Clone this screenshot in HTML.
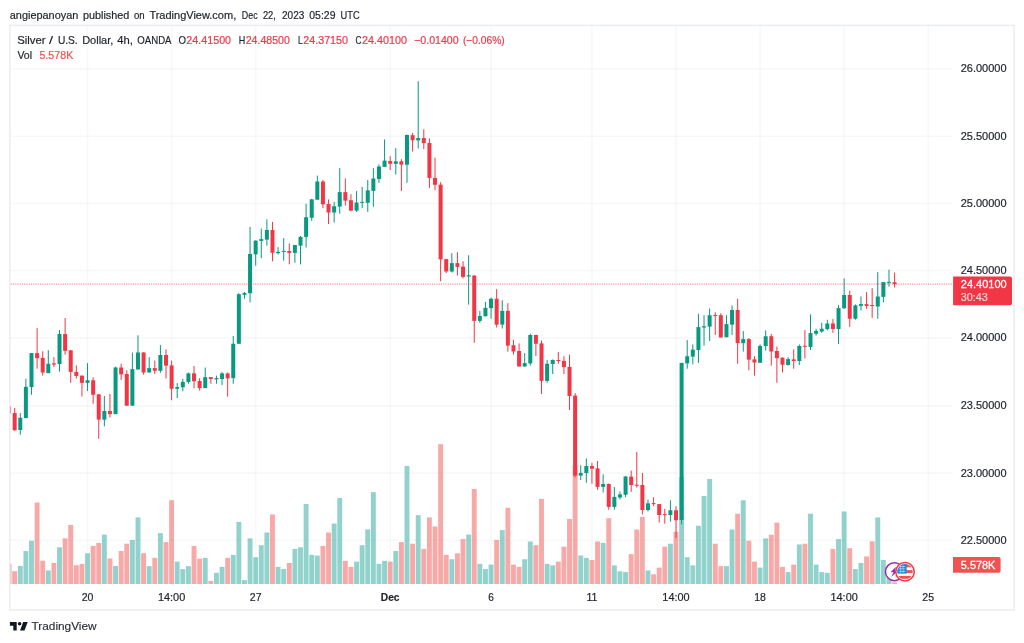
<!DOCTYPE html>
<html><head><meta charset="utf-8"><title>XAGUSD chart</title><style>html,body{margin:0;padding:0;background:#fff}svg{display:block;will-change:transform}text{font-family:"Liberation Sans",sans-serif}</style></head>
<body>
<svg width="1024" height="643" viewBox="0 0 1024 643">
<rect x="0" y="0" width="1024" height="643" fill="#ffffff"/>
<text x="9.8" y="18.6" font-size="11.2" fill="#1e222d" stroke="#1e222d" stroke-width="0.2" textLength="68.5" lengthAdjust="spacingAndGlyphs">angiepanoyan</text>
<text x="82.9" y="18.6" font-size="11.2" fill="#1e222d" stroke="#1e222d" stroke-width="0.2" textLength="46.4" lengthAdjust="spacingAndGlyphs">published</text>
<text x="134" y="18.6" font-size="11.2" fill="#1e222d" stroke="#1e222d" stroke-width="0.2" textLength="10.7" lengthAdjust="spacingAndGlyphs">on</text>
<text x="149.4" y="18.6" font-size="11.2" fill="#1e222d" stroke="#1e222d" stroke-width="0.2" textLength="86.8" lengthAdjust="spacingAndGlyphs">TradingView.com,</text>
<text x="241.8" y="18.6" font-size="11.2" fill="#1e222d" stroke="#1e222d" stroke-width="0.2" textLength="15.8" lengthAdjust="spacingAndGlyphs">Dec</text>
<text x="262.9" y="18.6" font-size="11.2" fill="#1e222d" stroke="#1e222d" stroke-width="0.2" textLength="13" lengthAdjust="spacingAndGlyphs">22,</text>
<text x="282" y="18.6" font-size="11.2" fill="#1e222d" stroke="#1e222d" stroke-width="0.2" textLength="22.3" lengthAdjust="spacingAndGlyphs">2023</text>
<text x="309.3" y="18.6" font-size="11.2" fill="#1e222d" stroke="#1e222d" stroke-width="0.2" textLength="26.2" lengthAdjust="spacingAndGlyphs">05:29</text>
<text x="340.5" y="18.6" font-size="11.2" fill="#1e222d" stroke="#1e222d" stroke-width="0.2" textLength="19.1" lengthAdjust="spacingAndGlyphs">UTC</text>
<g stroke="rgba(42,46,57,0.036)" stroke-width="1.6">
<line x1="87.53" y1="25.4" x2="87.53" y2="584"/>
<line x1="171.6" y1="25.4" x2="171.6" y2="584"/>
<line x1="255.67" y1="25.4" x2="255.67" y2="584"/>
<line x1="390.18" y1="25.4" x2="390.18" y2="584"/>
<line x1="491.06" y1="25.4" x2="491.06" y2="584"/>
<line x1="591.94" y1="25.4" x2="591.94" y2="584"/>
<line x1="676.01" y1="25.4" x2="676.01" y2="584"/>
<line x1="760.07" y1="25.4" x2="760.07" y2="584"/>
<line x1="844.14" y1="25.4" x2="844.14" y2="584"/>
<line x1="928.21" y1="25.4" x2="928.21" y2="584"/>
<line x1="10.3" y1="69" x2="953" y2="69"/>
<line x1="10.3" y1="136.3" x2="953" y2="136.3"/>
<line x1="10.3" y1="203.5" x2="953" y2="203.5"/>
<line x1="10.3" y1="270.5" x2="953" y2="270.5"/>
<line x1="10.3" y1="337.9" x2="953" y2="337.9"/>
<line x1="10.3" y1="405.9" x2="953" y2="405.9"/>
<line x1="10.3" y1="473.1" x2="953" y2="473.1"/>
<line x1="10.3" y1="540.3" x2="953" y2="540.3"/>
</g>
<clipPath id="cp"><rect x="10.3" y="25.4" width="942.7" height="558.6"/></clipPath>
<g clip-path="url(#cp)">
<rect x="6.62" y="563.72" width="4.9" height="20.28" fill="rgba(239,83,80,0.5)"/>
<rect x="12.22" y="571.19" width="4.9" height="12.81" fill="rgba(239,83,80,0.5)"/>
<rect x="17.83" y="565.96" width="4.9" height="18.04" fill="rgba(38,166,154,0.5)"/>
<rect x="23.43" y="551.03" width="4.9" height="32.97" fill="rgba(38,166,154,0.5)"/>
<rect x="29.04" y="540.73" width="4.9" height="43.27" fill="rgba(38,166,154,0.5)"/>
<rect x="34.64" y="502.51" width="4.9" height="81.49" fill="rgba(239,83,80,0.5)"/>
<rect x="40.25" y="560.74" width="4.9" height="23.26" fill="rgba(239,83,80,0.5)"/>
<rect x="45.85" y="570.44" width="4.9" height="13.56" fill="rgba(38,166,154,0.5)"/>
<rect x="51.46" y="562.98" width="4.9" height="21.02" fill="rgba(239,83,80,0.5)"/>
<rect x="57.06" y="547.3" width="4.9" height="36.7" fill="rgba(38,166,154,0.5)"/>
<rect x="62.67" y="538.34" width="4.9" height="45.66" fill="rgba(239,83,80,0.5)"/>
<rect x="68.27" y="524.9" width="4.9" height="59.1" fill="rgba(239,83,80,0.5)"/>
<rect x="73.87" y="565.22" width="4.9" height="18.78" fill="rgba(239,83,80,0.5)"/>
<rect x="79.48" y="563.87" width="4.9" height="20.13" fill="rgba(239,83,80,0.5)"/>
<rect x="85.08" y="553.27" width="4.9" height="30.73" fill="rgba(38,166,154,0.5)"/>
<rect x="90.69" y="545.96" width="4.9" height="38.04" fill="rgba(239,83,80,0.5)"/>
<rect x="96.29" y="542.97" width="4.9" height="41.03" fill="rgba(239,83,80,0.5)"/>
<rect x="101.9" y="534.61" width="4.9" height="49.39" fill="rgba(38,166,154,0.5)"/>
<rect x="107.5" y="558.5" width="4.9" height="25.5" fill="rgba(239,83,80,0.5)"/>
<rect x="113.11" y="565.96" width="4.9" height="18.04" fill="rgba(38,166,154,0.5)"/>
<rect x="118.71" y="551.03" width="4.9" height="32.97" fill="rgba(239,83,80,0.5)"/>
<rect x="124.31" y="543.72" width="4.9" height="40.28" fill="rgba(239,83,80,0.5)"/>
<rect x="129.92" y="539.98" width="4.9" height="44.02" fill="rgba(38,166,154,0.5)"/>
<rect x="135.52" y="517.44" width="4.9" height="66.56" fill="rgba(38,166,154,0.5)"/>
<rect x="141.13" y="553.27" width="4.9" height="30.73" fill="rgba(239,83,80,0.5)"/>
<rect x="146.73" y="566.11" width="4.9" height="17.89" fill="rgba(38,166,154,0.5)"/>
<rect x="152.34" y="557.9" width="4.9" height="26.1" fill="rgba(239,83,80,0.5)"/>
<rect x="157.94" y="533.12" width="4.9" height="50.88" fill="rgba(38,166,154,0.5)"/>
<rect x="163.55" y="542.07" width="4.9" height="41.93" fill="rgba(239,83,80,0.5)"/>
<rect x="169.15" y="500.27" width="4.9" height="83.73" fill="rgba(239,83,80,0.5)"/>
<rect x="174.75" y="561.63" width="4.9" height="22.37" fill="rgba(38,166,154,0.5)"/>
<rect x="180.36" y="569.1" width="4.9" height="14.9" fill="rgba(38,166,154,0.5)"/>
<rect x="185.96" y="566.11" width="4.9" height="17.89" fill="rgba(38,166,154,0.5)"/>
<rect x="191.57" y="545.96" width="4.9" height="38.04" fill="rgba(239,83,80,0.5)"/>
<rect x="197.17" y="558.65" width="4.9" height="25.35" fill="rgba(239,83,80,0.5)"/>
<rect x="202.78" y="557.9" width="4.9" height="26.1" fill="rgba(38,166,154,0.5)"/>
<rect x="208.38" y="580.89" width="4.9" height="3.11" fill="rgba(239,83,80,0.5)"/>
<rect x="213.99" y="572.83" width="4.9" height="11.17" fill="rgba(38,166,154,0.5)"/>
<rect x="219.59" y="566.86" width="4.9" height="17.14" fill="rgba(38,166,154,0.5)"/>
<rect x="225.2" y="557.9" width="4.9" height="26.1" fill="rgba(239,83,80,0.5)"/>
<rect x="230.8" y="554.91" width="4.9" height="29.09" fill="rgba(38,166,154,0.5)"/>
<rect x="236.4" y="521.92" width="4.9" height="62.08" fill="rgba(38,166,154,0.5)"/>
<rect x="242.01" y="580.15" width="4.9" height="3.85" fill="rgba(38,166,154,0.5)"/>
<rect x="247.61" y="538.34" width="4.9" height="45.66" fill="rgba(38,166,154,0.5)"/>
<rect x="253.22" y="557.15" width="4.9" height="26.85" fill="rgba(38,166,154,0.5)"/>
<rect x="258.82" y="545.21" width="4.9" height="38.79" fill="rgba(38,166,154,0.5)"/>
<rect x="264.43" y="532.52" width="4.9" height="51.48" fill="rgba(38,166,154,0.5)"/>
<rect x="270.03" y="514.45" width="4.9" height="69.55" fill="rgba(239,83,80,0.5)"/>
<rect x="275.64" y="566.86" width="4.9" height="17.14" fill="rgba(38,166,154,0.5)"/>
<rect x="281.24" y="569.1" width="4.9" height="14.9" fill="rgba(38,166,154,0.5)"/>
<rect x="286.84" y="562.98" width="4.9" height="21.02" fill="rgba(239,83,80,0.5)"/>
<rect x="292.45" y="548.94" width="4.9" height="35.06" fill="rgba(38,166,154,0.5)"/>
<rect x="298.05" y="547.3" width="4.9" height="36.7" fill="rgba(38,166,154,0.5)"/>
<rect x="303.66" y="504" width="4.9" height="80" fill="rgba(38,166,154,0.5)"/>
<rect x="309.26" y="554.91" width="4.9" height="29.09" fill="rgba(38,166,154,0.5)"/>
<rect x="314.87" y="555.66" width="4.9" height="28.34" fill="rgba(38,166,154,0.5)"/>
<rect x="320.47" y="545.96" width="4.9" height="38.04" fill="rgba(239,83,80,0.5)"/>
<rect x="326.08" y="532.52" width="4.9" height="51.48" fill="rgba(239,83,80,0.5)"/>
<rect x="331.68" y="523.56" width="4.9" height="60.44" fill="rgba(38,166,154,0.5)"/>
<rect x="337.29" y="498.03" width="4.9" height="85.97" fill="rgba(38,166,154,0.5)"/>
<rect x="342.89" y="560.89" width="4.9" height="23.11" fill="rgba(239,83,80,0.5)"/>
<rect x="348.49" y="566.86" width="4.9" height="17.14" fill="rgba(239,83,80,0.5)"/>
<rect x="354.1" y="561.63" width="4.9" height="22.37" fill="rgba(38,166,154,0.5)"/>
<rect x="359.7" y="545.21" width="4.9" height="38.79" fill="rgba(38,166,154,0.5)"/>
<rect x="365.31" y="529.38" width="4.9" height="54.62" fill="rgba(38,166,154,0.5)"/>
<rect x="370.91" y="492.1" width="4.9" height="91.9" fill="rgba(38,166,154,0.5)"/>
<rect x="376.52" y="563.87" width="4.9" height="20.13" fill="rgba(38,166,154,0.5)"/>
<rect x="382.12" y="560.89" width="4.9" height="23.11" fill="rgba(38,166,154,0.5)"/>
<rect x="387.73" y="561.63" width="4.9" height="22.37" fill="rgba(239,83,80,0.5)"/>
<rect x="393.33" y="551.03" width="4.9" height="32.97" fill="rgba(38,166,154,0.5)"/>
<rect x="398.94" y="542.07" width="4.9" height="41.93" fill="rgba(239,83,80,0.5)"/>
<rect x="404.54" y="466" width="4.9" height="118" fill="rgba(38,166,154,0.5)"/>
<rect x="410.14" y="543.72" width="4.9" height="40.28" fill="rgba(239,83,80,0.5)"/>
<rect x="415.75" y="515.2" width="4.9" height="68.8" fill="rgba(38,166,154,0.5)"/>
<rect x="421.35" y="548.94" width="4.9" height="35.06" fill="rgba(239,83,80,0.5)"/>
<rect x="426.96" y="517.44" width="4.9" height="66.56" fill="rgba(239,83,80,0.5)"/>
<rect x="432.56" y="526.4" width="4.9" height="57.6" fill="rgba(239,83,80,0.5)"/>
<rect x="438.17" y="444.2" width="4.9" height="139.8" fill="rgba(239,83,80,0.5)"/>
<rect x="443.77" y="554.91" width="4.9" height="29.09" fill="rgba(239,83,80,0.5)"/>
<rect x="449.38" y="559.24" width="4.9" height="24.76" fill="rgba(38,166,154,0.5)"/>
<rect x="454.98" y="553.27" width="4.9" height="30.73" fill="rgba(239,83,80,0.5)"/>
<rect x="460.58" y="539.09" width="4.9" height="44.91" fill="rgba(239,83,80,0.5)"/>
<rect x="466.19" y="534.61" width="4.9" height="49.39" fill="rgba(38,166,154,0.5)"/>
<rect x="471.79" y="489" width="4.9" height="95" fill="rgba(239,83,80,0.5)"/>
<rect x="477.4" y="563.87" width="4.9" height="20.13" fill="rgba(38,166,154,0.5)"/>
<rect x="483" y="569.1" width="4.9" height="14.9" fill="rgba(38,166,154,0.5)"/>
<rect x="488.61" y="564.62" width="4.9" height="19.38" fill="rgba(38,166,154,0.5)"/>
<rect x="494.21" y="539.98" width="4.9" height="44.02" fill="rgba(239,83,80,0.5)"/>
<rect x="499.82" y="530.13" width="4.9" height="53.87" fill="rgba(38,166,154,0.5)"/>
<rect x="505.42" y="507.74" width="4.9" height="76.26" fill="rgba(239,83,80,0.5)"/>
<rect x="511.03" y="564.62" width="4.9" height="19.38" fill="rgba(239,83,80,0.5)"/>
<rect x="516.63" y="566.86" width="4.9" height="17.14" fill="rgba(239,83,80,0.5)"/>
<rect x="522.23" y="559.24" width="4.9" height="24.76" fill="rgba(38,166,154,0.5)"/>
<rect x="527.84" y="541.48" width="4.9" height="42.52" fill="rgba(38,166,154,0.5)"/>
<rect x="533.44" y="545.21" width="4.9" height="38.79" fill="rgba(239,83,80,0.5)"/>
<rect x="539.05" y="498.93" width="4.9" height="85.07" fill="rgba(239,83,80,0.5)"/>
<rect x="544.65" y="563.87" width="4.9" height="20.13" fill="rgba(38,166,154,0.5)"/>
<rect x="550.26" y="565.36" width="4.9" height="18.64" fill="rgba(38,166,154,0.5)"/>
<rect x="555.86" y="561.63" width="4.9" height="22.37" fill="rgba(239,83,80,0.5)"/>
<rect x="561.47" y="546.7" width="4.9" height="37.3" fill="rgba(239,83,80,0.5)"/>
<rect x="567.07" y="518.93" width="4.9" height="65.07" fill="rgba(239,83,80,0.5)"/>
<rect x="572.67" y="465" width="4.9" height="119" fill="rgba(239,83,80,0.5)"/>
<rect x="578.28" y="555.51" width="4.9" height="28.49" fill="rgba(38,166,154,0.5)"/>
<rect x="583.88" y="557.9" width="4.9" height="26.1" fill="rgba(38,166,154,0.5)"/>
<rect x="589.49" y="559.99" width="4.9" height="24.01" fill="rgba(239,83,80,0.5)"/>
<rect x="595.09" y="541.48" width="4.9" height="42.52" fill="rgba(239,83,80,0.5)"/>
<rect x="600.7" y="542.97" width="4.9" height="41.03" fill="rgba(38,166,154,0.5)"/>
<rect x="606.3" y="518.19" width="4.9" height="65.81" fill="rgba(239,83,80,0.5)"/>
<rect x="611.91" y="565.36" width="4.9" height="18.64" fill="rgba(38,166,154,0.5)"/>
<rect x="617.51" y="571.34" width="4.9" height="12.66" fill="rgba(38,166,154,0.5)"/>
<rect x="623.12" y="572.08" width="4.9" height="11.92" fill="rgba(38,166,154,0.5)"/>
<rect x="628.72" y="554.17" width="4.9" height="29.83" fill="rgba(239,83,80,0.5)"/>
<rect x="634.32" y="529.53" width="4.9" height="54.47" fill="rgba(239,83,80,0.5)"/>
<rect x="639.93" y="516.84" width="4.9" height="67.16" fill="rgba(239,83,80,0.5)"/>
<rect x="645.53" y="570.44" width="4.9" height="13.56" fill="rgba(38,166,154,0.5)"/>
<rect x="651.14" y="574.32" width="4.9" height="9.68" fill="rgba(239,83,80,0.5)"/>
<rect x="656.74" y="567.6" width="4.9" height="16.4" fill="rgba(239,83,80,0.5)"/>
<rect x="662.35" y="546.7" width="4.9" height="37.3" fill="rgba(239,83,80,0.5)"/>
<rect x="667.95" y="543.72" width="4.9" height="40.28" fill="rgba(38,166,154,0.5)"/>
<rect x="673.56" y="531.77" width="4.9" height="52.23" fill="rgba(239,83,80,0.5)"/>
<rect x="679.16" y="477.1" width="4.9" height="106.9" fill="rgba(38,166,154,0.5)"/>
<rect x="684.76" y="557.15" width="4.9" height="26.85" fill="rgba(38,166,154,0.5)"/>
<rect x="690.37" y="565.36" width="4.9" height="18.64" fill="rgba(38,166,154,0.5)"/>
<rect x="695.97" y="525.8" width="4.9" height="58.2" fill="rgba(38,166,154,0.5)"/>
<rect x="701.58" y="495.94" width="4.9" height="88.06" fill="rgba(38,166,154,0.5)"/>
<rect x="707.18" y="478.95" width="4.9" height="105.05" fill="rgba(38,166,154,0.5)"/>
<rect x="712.79" y="543.72" width="4.9" height="40.28" fill="rgba(239,83,80,0.5)"/>
<rect x="718.39" y="566.11" width="4.9" height="17.89" fill="rgba(239,83,80,0.5)"/>
<rect x="724" y="566.11" width="4.9" height="17.89" fill="rgba(38,166,154,0.5)"/>
<rect x="729.6" y="529.53" width="4.9" height="54.47" fill="rgba(38,166,154,0.5)"/>
<rect x="735.2" y="513.71" width="4.9" height="70.29" fill="rgba(239,83,80,0.5)"/>
<rect x="740.81" y="500.27" width="4.9" height="83.73" fill="rgba(38,166,154,0.5)"/>
<rect x="746.41" y="540.73" width="4.9" height="43.27" fill="rgba(239,83,80,0.5)"/>
<rect x="752.02" y="561.63" width="4.9" height="22.37" fill="rgba(239,83,80,0.5)"/>
<rect x="757.62" y="567.6" width="4.9" height="16.4" fill="rgba(38,166,154,0.5)"/>
<rect x="763.23" y="538.34" width="4.9" height="45.66" fill="rgba(38,166,154,0.5)"/>
<rect x="768.83" y="534.76" width="4.9" height="49.24" fill="rgba(239,83,80,0.5)"/>
<rect x="774.44" y="522.67" width="4.9" height="61.33" fill="rgba(239,83,80,0.5)"/>
<rect x="780.04" y="566.86" width="4.9" height="17.14" fill="rgba(239,83,80,0.5)"/>
<rect x="785.65" y="572.08" width="4.9" height="11.92" fill="rgba(38,166,154,0.5)"/>
<rect x="791.25" y="564.62" width="4.9" height="19.38" fill="rgba(239,83,80,0.5)"/>
<rect x="796.85" y="544.46" width="4.9" height="39.54" fill="rgba(38,166,154,0.5)"/>
<rect x="802.46" y="543.72" width="4.9" height="40.28" fill="rgba(239,83,80,0.5)"/>
<rect x="808.06" y="513.71" width="4.9" height="70.29" fill="rgba(38,166,154,0.5)"/>
<rect x="813.67" y="564.62" width="4.9" height="19.38" fill="rgba(38,166,154,0.5)"/>
<rect x="819.27" y="572.08" width="4.9" height="11.92" fill="rgba(38,166,154,0.5)"/>
<rect x="824.88" y="572.83" width="4.9" height="11.17" fill="rgba(38,166,154,0.5)"/>
<rect x="830.48" y="548.94" width="4.9" height="35.06" fill="rgba(239,83,80,0.5)"/>
<rect x="836.09" y="539.09" width="4.9" height="44.91" fill="rgba(38,166,154,0.5)"/>
<rect x="841.69" y="511.47" width="4.9" height="72.53" fill="rgba(38,166,154,0.5)"/>
<rect x="847.29" y="548.2" width="4.9" height="35.8" fill="rgba(239,83,80,0.5)"/>
<rect x="852.9" y="569.1" width="4.9" height="14.9" fill="rgba(38,166,154,0.5)"/>
<rect x="858.5" y="562.98" width="4.9" height="21.02" fill="rgba(38,166,154,0.5)"/>
<rect x="864.11" y="556.41" width="4.9" height="27.59" fill="rgba(239,83,80,0.5)"/>
<rect x="869.71" y="541.33" width="4.9" height="42.67" fill="rgba(239,83,80,0.5)"/>
<rect x="875.32" y="517.44" width="4.9" height="66.56" fill="rgba(38,166,154,0.5)"/>
<rect x="880.92" y="559.99" width="4.9" height="24.01" fill="rgba(38,166,154,0.5)"/>
<rect x="886.53" y="574" width="4.9" height="10" fill="rgba(38,166,154,0.5)"/>
<rect x="892.13" y="582.3" width="4.9" height="1.7" fill="rgba(239,83,80,0.5)"/>
<rect x="8.57" y="406.25" width="1" height="7.25" fill="#f23645"/>
<rect x="7.07" y="406.25" width="4" height="7.25" fill="#f23645"/>
<rect x="14.17" y="407.88" width="1" height="23" fill="#f23645"/>
<rect x="12.67" y="413.12" width="4" height="17.12" fill="#f23645"/>
<rect x="19.78" y="413.12" width="1" height="21.62" fill="#089981"/>
<rect x="18.28" y="417.75" width="4" height="12.25" fill="#089981"/>
<rect x="25.38" y="378.75" width="1" height="39.38" fill="#089981"/>
<rect x="23.88" y="386.88" width="4" height="31.25" fill="#089981"/>
<rect x="30.99" y="353.12" width="1" height="41.62" fill="#089981"/>
<rect x="29.49" y="353.12" width="4" height="34" fill="#089981"/>
<rect x="36.59" y="328.12" width="1" height="40.62" fill="#f23645"/>
<rect x="35.09" y="353.12" width="4" height="5" fill="#f23645"/>
<rect x="42.2" y="351.25" width="1" height="24.38" fill="#f23645"/>
<rect x="40.7" y="357.88" width="4" height="14.62" fill="#f23645"/>
<rect x="47.8" y="350.25" width="1" height="22.88" fill="#089981"/>
<rect x="46.3" y="363.75" width="4" height="9.38" fill="#089981"/>
<rect x="53.41" y="357.12" width="1" height="10" fill="#f23645"/>
<rect x="51.91" y="363.38" width="4" height="1.25" fill="#f23645"/>
<rect x="59.01" y="330" width="1" height="41.62" fill="#089981"/>
<rect x="57.51" y="334" width="4" height="30" fill="#089981"/>
<rect x="64.62" y="318.12" width="1" height="36.5" fill="#f23645"/>
<rect x="63.12" y="334" width="4" height="16.88" fill="#f23645"/>
<rect x="70.22" y="350.25" width="1" height="32.62" fill="#f23645"/>
<rect x="68.72" y="350.25" width="4" height="21.62" fill="#f23645"/>
<rect x="75.82" y="365.38" width="1" height="13.12" fill="#f23645"/>
<rect x="74.32" y="371.88" width="4" height="4.12" fill="#f23645"/>
<rect x="81.43" y="375.62" width="1" height="21" fill="#f23645"/>
<rect x="79.93" y="375.62" width="4" height="7.25" fill="#f23645"/>
<rect x="87.03" y="363.12" width="1" height="27.88" fill="#089981"/>
<rect x="85.53" y="380.25" width="4" height="2.62" fill="#089981"/>
<rect x="92.64" y="377.25" width="1" height="26.5" fill="#f23645"/>
<rect x="91.14" y="380.25" width="4" height="14.5" fill="#f23645"/>
<rect x="98.24" y="394" width="1" height="44.75" fill="#f23645"/>
<rect x="96.74" y="394.38" width="4" height="25.25" fill="#f23645"/>
<rect x="103.85" y="396" width="1" height="30.25" fill="#089981"/>
<rect x="102.35" y="411" width="4" height="8.62" fill="#089981"/>
<rect x="109.45" y="393.75" width="1" height="23.75" fill="#f23645"/>
<rect x="107.95" y="411" width="4" height="3.12" fill="#f23645"/>
<rect x="115.06" y="366.62" width="1" height="47.5" fill="#089981"/>
<rect x="113.56" y="367.5" width="4" height="46.62" fill="#089981"/>
<rect x="120.66" y="363.75" width="1" height="16.25" fill="#f23645"/>
<rect x="119.16" y="367.5" width="4" height="6.88" fill="#f23645"/>
<rect x="126.26" y="370.25" width="1" height="35.75" fill="#f23645"/>
<rect x="124.76" y="374" width="4" height="31.62" fill="#f23645"/>
<rect x="131.87" y="352.5" width="1" height="53.5" fill="#089981"/>
<rect x="130.37" y="369.12" width="4" height="36.5" fill="#089981"/>
<rect x="137.47" y="335.25" width="1" height="34.25" fill="#089981"/>
<rect x="135.97" y="352.5" width="4" height="17" fill="#089981"/>
<rect x="143.08" y="352.25" width="1" height="22.38" fill="#f23645"/>
<rect x="141.58" y="352.5" width="4" height="20" fill="#f23645"/>
<rect x="148.68" y="357.12" width="1" height="15.38" fill="#089981"/>
<rect x="147.18" y="368.12" width="4" height="4.38" fill="#089981"/>
<rect x="154.29" y="360.62" width="1" height="13.38" fill="#f23645"/>
<rect x="152.79" y="368.12" width="4" height="2.62" fill="#f23645"/>
<rect x="159.89" y="345" width="1" height="27.75" fill="#089981"/>
<rect x="158.39" y="355" width="4" height="15.75" fill="#089981"/>
<rect x="165.5" y="349.38" width="1" height="29.12" fill="#f23645"/>
<rect x="164" y="355" width="4" height="10.62" fill="#f23645"/>
<rect x="171.1" y="360.62" width="1" height="39.62" fill="#f23645"/>
<rect x="169.6" y="365.38" width="4" height="23.38" fill="#f23645"/>
<rect x="176.7" y="383.12" width="1" height="15" fill="#089981"/>
<rect x="175.2" y="387" width="4" height="1.75" fill="#089981"/>
<rect x="182.31" y="378.75" width="1" height="12.5" fill="#089981"/>
<rect x="180.81" y="381.88" width="4" height="5.38" fill="#089981"/>
<rect x="187.91" y="372.5" width="1" height="11.25" fill="#089981"/>
<rect x="186.41" y="373.38" width="4" height="8.62" fill="#089981"/>
<rect x="193.52" y="366" width="1" height="22.38" fill="#f23645"/>
<rect x="192.02" y="373.38" width="4" height="7.88" fill="#f23645"/>
<rect x="199.12" y="378.12" width="1" height="12.5" fill="#f23645"/>
<rect x="197.62" y="381" width="4" height="7.12" fill="#f23645"/>
<rect x="204.73" y="367.5" width="1" height="20.62" fill="#089981"/>
<rect x="203.23" y="377.12" width="4" height="11" fill="#089981"/>
<rect x="210.33" y="377.12" width="1" height="6.62" fill="#f23645"/>
<rect x="208.83" y="377.12" width="4" height="1.88" fill="#f23645"/>
<rect x="215.94" y="375.62" width="1" height="8.12" fill="#089981"/>
<rect x="214.44" y="378.12" width="4" height="1.25" fill="#089981"/>
<rect x="221.54" y="371.88" width="1" height="13.12" fill="#089981"/>
<rect x="220.04" y="373.38" width="4" height="5.62" fill="#089981"/>
<rect x="227.15" y="372.5" width="1" height="24.12" fill="#f23645"/>
<rect x="225.65" y="373.38" width="4" height="5" fill="#f23645"/>
<rect x="232.75" y="336" width="1" height="47.75" fill="#089981"/>
<rect x="231.25" y="343.75" width="4" height="34.38" fill="#089981"/>
<rect x="238.35" y="293.3" width="1" height="50.45" fill="#089981"/>
<rect x="236.85" y="294.2" width="4" height="49.55" fill="#089981"/>
<rect x="243.96" y="292.1" width="1" height="6.65" fill="#089981"/>
<rect x="242.46" y="292.9" width="4" height="1.9" fill="#089981"/>
<rect x="249.56" y="226.88" width="1" height="75.52" fill="#089981"/>
<rect x="248.06" y="254" width="4" height="39.2" fill="#089981"/>
<rect x="255.17" y="240.38" width="1" height="25.25" fill="#089981"/>
<rect x="253.67" y="240.62" width="4" height="13.75" fill="#089981"/>
<rect x="260.77" y="228.5" width="1" height="29.62" fill="#089981"/>
<rect x="259.27" y="239.12" width="4" height="1.75" fill="#089981"/>
<rect x="266.38" y="219.38" width="1" height="26.25" fill="#089981"/>
<rect x="264.88" y="230" width="4" height="9.62" fill="#089981"/>
<rect x="271.98" y="221.88" width="1" height="39.38" fill="#f23645"/>
<rect x="270.48" y="230" width="4" height="22.75" fill="#f23645"/>
<rect x="277.59" y="247.12" width="1" height="7.5" fill="#089981"/>
<rect x="276.09" y="251.75" width="4" height="1.38" fill="#089981"/>
<rect x="283.19" y="238.12" width="1" height="22.5" fill="#089981"/>
<rect x="281.69" y="250.88" width="4" height="1" fill="#089981"/>
<rect x="288.79" y="243.38" width="1" height="21" fill="#f23645"/>
<rect x="287.29" y="251" width="4" height="1.88" fill="#f23645"/>
<rect x="294.4" y="245" width="1" height="17.75" fill="#089981"/>
<rect x="292.9" y="245" width="4" height="7.88" fill="#089981"/>
<rect x="300" y="236" width="1" height="28.38" fill="#089981"/>
<rect x="298.5" y="236.88" width="4" height="8.75" fill="#089981"/>
<rect x="305.61" y="203.75" width="1" height="43.75" fill="#089981"/>
<rect x="304.11" y="217.25" width="4" height="19.62" fill="#089981"/>
<rect x="311.21" y="198.75" width="1" height="22.12" fill="#089981"/>
<rect x="309.71" y="199.38" width="4" height="18.38" fill="#089981"/>
<rect x="316.82" y="175.62" width="1" height="24.12" fill="#089981"/>
<rect x="315.32" y="181.5" width="4" height="18.25" fill="#089981"/>
<rect x="322.42" y="180" width="1" height="28.12" fill="#f23645"/>
<rect x="320.92" y="181.5" width="4" height="22.88" fill="#f23645"/>
<rect x="328.03" y="199.38" width="1" height="24.62" fill="#f23645"/>
<rect x="326.53" y="204" width="4" height="8.5" fill="#f23645"/>
<rect x="333.63" y="201.88" width="1" height="20.62" fill="#089981"/>
<rect x="332.13" y="206.25" width="4" height="6.25" fill="#089981"/>
<rect x="339.24" y="168.12" width="1" height="45.62" fill="#089981"/>
<rect x="337.74" y="192.12" width="4" height="14.5" fill="#089981"/>
<rect x="344.84" y="178.5" width="1" height="27.12" fill="#f23645"/>
<rect x="343.34" y="192.12" width="4" height="8.5" fill="#f23645"/>
<rect x="350.44" y="194.12" width="1" height="17.12" fill="#f23645"/>
<rect x="348.94" y="200.25" width="4" height="10.38" fill="#f23645"/>
<rect x="356.05" y="191" width="1" height="20.88" fill="#089981"/>
<rect x="354.55" y="202.5" width="4" height="8.12" fill="#089981"/>
<rect x="361.65" y="186.88" width="1" height="21.25" fill="#089981"/>
<rect x="360.15" y="201.88" width="4" height="1" fill="#089981"/>
<rect x="367.26" y="180" width="1" height="31.88" fill="#089981"/>
<rect x="365.76" y="190.38" width="4" height="12.38" fill="#089981"/>
<rect x="372.86" y="168.12" width="1" height="38.75" fill="#089981"/>
<rect x="371.36" y="178.5" width="4" height="12.38" fill="#089981"/>
<rect x="378.47" y="164.38" width="1" height="18.38" fill="#089981"/>
<rect x="376.97" y="166.5" width="4" height="12.5" fill="#089981"/>
<rect x="384.07" y="139.38" width="1" height="27.5" fill="#089981"/>
<rect x="382.57" y="160.62" width="4" height="6.25" fill="#089981"/>
<rect x="389.68" y="156.25" width="1" height="13.75" fill="#f23645"/>
<rect x="388.18" y="160.94" width="4" height="2.89" fill="#f23645"/>
<rect x="395.28" y="148.05" width="1" height="26.58" fill="#089981"/>
<rect x="393.78" y="161.33" width="4" height="2.58" fill="#089981"/>
<rect x="400.88" y="159.14" width="1" height="31.86" fill="#f23645"/>
<rect x="399.38" y="161.33" width="4" height="3.28" fill="#f23645"/>
<rect x="406.49" y="134.38" width="1" height="48.38" fill="#089981"/>
<rect x="404.99" y="135" width="4" height="29.69" fill="#089981"/>
<rect x="412.09" y="132.81" width="1" height="18.75" fill="#f23645"/>
<rect x="410.59" y="135.16" width="4" height="5.08" fill="#f23645"/>
<rect x="417.7" y="81.25" width="1" height="67.19" fill="#089981"/>
<rect x="416.2" y="138.05" width="4" height="2.34" fill="#089981"/>
<rect x="423.3" y="129.3" width="1" height="19.77" fill="#f23645"/>
<rect x="421.8" y="138.05" width="4" height="5.08" fill="#f23645"/>
<rect x="428.91" y="138.28" width="1" height="49.61" fill="#f23645"/>
<rect x="427.41" y="142.97" width="4" height="35" fill="#f23645"/>
<rect x="434.51" y="157.58" width="1" height="32.66" fill="#f23645"/>
<rect x="433.01" y="177.97" width="4" height="6.8" fill="#f23645"/>
<rect x="440.12" y="182.19" width="1" height="99.06" fill="#f23645"/>
<rect x="438.62" y="184.61" width="4" height="74.77" fill="#f23645"/>
<rect x="445.72" y="258.75" width="1" height="14.38" fill="#f23645"/>
<rect x="444.22" y="259.12" width="4" height="12.38" fill="#f23645"/>
<rect x="451.33" y="253.12" width="1" height="19.38" fill="#089981"/>
<rect x="449.83" y="263.12" width="4" height="8.38" fill="#089981"/>
<rect x="456.93" y="252.25" width="1" height="23.38" fill="#f23645"/>
<rect x="455.43" y="263.12" width="4" height="3.75" fill="#f23645"/>
<rect x="462.53" y="261.25" width="1" height="17.25" fill="#f23645"/>
<rect x="461.03" y="266.62" width="4" height="10.25" fill="#f23645"/>
<rect x="468.14" y="255.25" width="1" height="49.38" fill="#089981"/>
<rect x="466.64" y="275.25" width="4" height="1.25" fill="#089981"/>
<rect x="473.74" y="275" width="1" height="67.88" fill="#f23645"/>
<rect x="472.24" y="275.62" width="4" height="45.25" fill="#f23645"/>
<rect x="479.35" y="310.88" width="1" height="12" fill="#089981"/>
<rect x="477.85" y="316" width="4" height="4.88" fill="#089981"/>
<rect x="484.95" y="301.88" width="1" height="14.38" fill="#089981"/>
<rect x="483.45" y="307.88" width="4" height="8.38" fill="#089981"/>
<rect x="490.56" y="297.5" width="1" height="21.25" fill="#089981"/>
<rect x="489.06" y="298.75" width="4" height="9.38" fill="#089981"/>
<rect x="496.16" y="289.12" width="1" height="38.38" fill="#f23645"/>
<rect x="494.66" y="298.75" width="4" height="25.88" fill="#f23645"/>
<rect x="501.77" y="300.25" width="1" height="28.25" fill="#089981"/>
<rect x="500.27" y="310.88" width="4" height="13.75" fill="#089981"/>
<rect x="507.37" y="303.12" width="1" height="48.5" fill="#f23645"/>
<rect x="505.87" y="310.88" width="4" height="34.75" fill="#f23645"/>
<rect x="512.98" y="339.75" width="1" height="14.88" fill="#f23645"/>
<rect x="511.48" y="345.25" width="4" height="6.25" fill="#f23645"/>
<rect x="518.58" y="343.38" width="1" height="23.12" fill="#f23645"/>
<rect x="517.08" y="351" width="4" height="15.5" fill="#f23645"/>
<rect x="524.18" y="353.12" width="1" height="13.38" fill="#089981"/>
<rect x="522.68" y="363.12" width="4" height="3.38" fill="#089981"/>
<rect x="529.79" y="333.75" width="1" height="31.88" fill="#089981"/>
<rect x="528.29" y="335" width="4" height="28.38" fill="#089981"/>
<rect x="535.39" y="334.75" width="1" height="21.25" fill="#f23645"/>
<rect x="533.89" y="335" width="4" height="8.75" fill="#f23645"/>
<rect x="541" y="340.38" width="1" height="53.75" fill="#f23645"/>
<rect x="539.5" y="343.38" width="4" height="37.5" fill="#f23645"/>
<rect x="546.6" y="360" width="1" height="22.88" fill="#089981"/>
<rect x="545.1" y="363.75" width="4" height="17.12" fill="#089981"/>
<rect x="552.21" y="359.38" width="1" height="14.62" fill="#089981"/>
<rect x="550.71" y="360" width="4" height="4" fill="#089981"/>
<rect x="557.81" y="351.88" width="1" height="11.88" fill="#f23645"/>
<rect x="556.31" y="360" width="4" height="1" fill="#f23645"/>
<rect x="563.42" y="356.25" width="1" height="17.75" fill="#f23645"/>
<rect x="561.92" y="360.88" width="4" height="6.25" fill="#f23645"/>
<rect x="569.02" y="354.75" width="1" height="55.25" fill="#f23645"/>
<rect x="567.52" y="366.88" width="4" height="29.12" fill="#f23645"/>
<rect x="574.62" y="393.12" width="1" height="84.38" fill="#f23645"/>
<rect x="573.12" y="395.62" width="4" height="80" fill="#f23645"/>
<rect x="580.23" y="465.25" width="1" height="14.75" fill="#089981"/>
<rect x="578.73" y="472.88" width="4" height="2.75" fill="#089981"/>
<rect x="585.83" y="458.5" width="1" height="24.25" fill="#089981"/>
<rect x="584.33" y="466" width="4" height="7.12" fill="#089981"/>
<rect x="591.44" y="462.88" width="1" height="20.88" fill="#f23645"/>
<rect x="589.94" y="466" width="4" height="2.75" fill="#f23645"/>
<rect x="597.04" y="461" width="1" height="28.75" fill="#f23645"/>
<rect x="595.54" y="468.38" width="4" height="18.5" fill="#f23645"/>
<rect x="602.65" y="474.38" width="1" height="18.12" fill="#089981"/>
<rect x="601.15" y="484" width="4" height="2.88" fill="#089981"/>
<rect x="608.25" y="483.5" width="1" height="26.25" fill="#f23645"/>
<rect x="606.75" y="484" width="4" height="22.88" fill="#f23645"/>
<rect x="613.86" y="487.12" width="1" height="22.62" fill="#089981"/>
<rect x="612.36" y="496.88" width="4" height="10" fill="#089981"/>
<rect x="619.46" y="491.5" width="1" height="7.88" fill="#089981"/>
<rect x="617.96" y="494.38" width="4" height="3.12" fill="#089981"/>
<rect x="625.07" y="475.88" width="1" height="21.38" fill="#089981"/>
<rect x="623.57" y="476.5" width="4" height="18.25" fill="#089981"/>
<rect x="630.67" y="470.62" width="1" height="21.25" fill="#f23645"/>
<rect x="629.17" y="476.62" width="4" height="8.38" fill="#f23645"/>
<rect x="636.27" y="451.88" width="1" height="35.62" fill="#f23645"/>
<rect x="634.77" y="484.75" width="4" height="1" fill="#f23645"/>
<rect x="641.88" y="472.88" width="1" height="41.5" fill="#f23645"/>
<rect x="640.38" y="485" width="4" height="25" fill="#f23645"/>
<rect x="647.48" y="499.75" width="1" height="11.75" fill="#089981"/>
<rect x="645.98" y="503.38" width="4" height="6.62" fill="#089981"/>
<rect x="653.09" y="497.25" width="1" height="9" fill="#f23645"/>
<rect x="651.59" y="503.12" width="4" height="1" fill="#f23645"/>
<rect x="658.69" y="504" width="1" height="18.5" fill="#f23645"/>
<rect x="657.19" y="504.12" width="4" height="10.88" fill="#f23645"/>
<rect x="664.3" y="508.75" width="1" height="15" fill="#f23645"/>
<rect x="662.8" y="514.12" width="4" height="1" fill="#f23645"/>
<rect x="669.9" y="500.38" width="1" height="21.25" fill="#089981"/>
<rect x="668.4" y="510.25" width="4" height="4.75" fill="#089981"/>
<rect x="675.51" y="506.25" width="1" height="32" fill="#f23645"/>
<rect x="674.01" y="510.25" width="4" height="10" fill="#f23645"/>
<rect x="681.11" y="362.88" width="1" height="161.5" fill="#089981"/>
<rect x="679.61" y="362.88" width="4" height="157.12" fill="#089981"/>
<rect x="686.71" y="340" width="1" height="28.75" fill="#089981"/>
<rect x="685.21" y="356.25" width="4" height="7.12" fill="#089981"/>
<rect x="692.32" y="344.38" width="1" height="20" fill="#089981"/>
<rect x="690.82" y="349.62" width="4" height="7" fill="#089981"/>
<rect x="697.92" y="313.75" width="1" height="49.12" fill="#089981"/>
<rect x="696.42" y="327.12" width="4" height="22.88" fill="#089981"/>
<rect x="703.53" y="315.25" width="1" height="30.38" fill="#089981"/>
<rect x="702.03" y="326.25" width="4" height="1.25" fill="#089981"/>
<rect x="709.13" y="308.5" width="1" height="32.5" fill="#089981"/>
<rect x="707.63" y="315.25" width="4" height="11.38" fill="#089981"/>
<rect x="714.74" y="312.25" width="1" height="22.75" fill="#f23645"/>
<rect x="713.24" y="315" width="4" height="1" fill="#f23645"/>
<rect x="720.34" y="313.12" width="1" height="24.38" fill="#f23645"/>
<rect x="718.84" y="315.25" width="4" height="22.25" fill="#f23645"/>
<rect x="725.95" y="315.25" width="1" height="22" fill="#089981"/>
<rect x="724.45" y="324.12" width="4" height="13.12" fill="#089981"/>
<rect x="731.55" y="305.38" width="1" height="29.62" fill="#089981"/>
<rect x="730.05" y="310" width="4" height="14.62" fill="#089981"/>
<rect x="737.15" y="298.75" width="1" height="65" fill="#f23645"/>
<rect x="735.65" y="310" width="4" height="33.12" fill="#f23645"/>
<rect x="742.76" y="331" width="1" height="20.62" fill="#089981"/>
<rect x="741.26" y="339.12" width="4" height="4" fill="#089981"/>
<rect x="748.36" y="338.12" width="1" height="32.12" fill="#f23645"/>
<rect x="746.86" y="339.12" width="4" height="20.5" fill="#f23645"/>
<rect x="753.97" y="356.25" width="1" height="19.38" fill="#f23645"/>
<rect x="752.47" y="359.38" width="4" height="3.12" fill="#f23645"/>
<rect x="759.57" y="344.38" width="1" height="18.38" fill="#089981"/>
<rect x="758.07" y="345.88" width="4" height="16.88" fill="#089981"/>
<rect x="765.18" y="330.25" width="1" height="20.38" fill="#089981"/>
<rect x="763.68" y="336.25" width="4" height="9.75" fill="#089981"/>
<rect x="770.78" y="334" width="1" height="31.62" fill="#f23645"/>
<rect x="769.28" y="336.25" width="4" height="15.25" fill="#f23645"/>
<rect x="776.39" y="346.62" width="1" height="36.12" fill="#f23645"/>
<rect x="774.89" y="351" width="4" height="7.12" fill="#f23645"/>
<rect x="781.99" y="357.25" width="1" height="15.25" fill="#f23645"/>
<rect x="780.49" y="357.75" width="4" height="7" fill="#f23645"/>
<rect x="787.6" y="357.25" width="1" height="8.38" fill="#089981"/>
<rect x="786.1" y="359.12" width="4" height="5.88" fill="#089981"/>
<rect x="793.2" y="349.38" width="1" height="19.38" fill="#f23645"/>
<rect x="791.7" y="359.38" width="4" height="1.62" fill="#f23645"/>
<rect x="798.8" y="344.38" width="1" height="20.62" fill="#089981"/>
<rect x="797.3" y="346" width="4" height="15" fill="#089981"/>
<rect x="804.41" y="330" width="1" height="28.5" fill="#f23645"/>
<rect x="802.91" y="345.75" width="4" height="1" fill="#f23645"/>
<rect x="810.01" y="314.38" width="1" height="35.62" fill="#089981"/>
<rect x="808.51" y="333.12" width="4" height="13.75" fill="#089981"/>
<rect x="815.62" y="328.75" width="1" height="6.88" fill="#089981"/>
<rect x="814.12" y="330.88" width="4" height="2.88" fill="#089981"/>
<rect x="821.22" y="322.75" width="1" height="10.12" fill="#089981"/>
<rect x="819.72" y="328.75" width="4" height="2.75" fill="#089981"/>
<rect x="826.83" y="319.75" width="1" height="10.62" fill="#089981"/>
<rect x="825.33" y="323.5" width="4" height="5.62" fill="#089981"/>
<rect x="832.43" y="319" width="1" height="13.88" fill="#f23645"/>
<rect x="830.93" y="323.5" width="4" height="5.5" fill="#f23645"/>
<rect x="838.04" y="305" width="1" height="39" fill="#089981"/>
<rect x="836.54" y="308.12" width="4" height="20.88" fill="#089981"/>
<rect x="843.64" y="278.38" width="1" height="30.62" fill="#089981"/>
<rect x="842.14" y="295" width="4" height="13.12" fill="#089981"/>
<rect x="849.25" y="290.62" width="1" height="36.25" fill="#f23645"/>
<rect x="847.75" y="295" width="4" height="23.75" fill="#f23645"/>
<rect x="854.85" y="304.38" width="1" height="15.38" fill="#089981"/>
<rect x="853.35" y="305.38" width="4" height="13.38" fill="#089981"/>
<rect x="860.45" y="296.5" width="1" height="13.88" fill="#089981"/>
<rect x="858.95" y="304.12" width="4" height="1.75" fill="#089981"/>
<rect x="866.06" y="292.12" width="1" height="16.62" fill="#f23645"/>
<rect x="864.56" y="304.12" width="4" height="1.75" fill="#f23645"/>
<rect x="871.66" y="288.12" width="1" height="29.75" fill="#f23645"/>
<rect x="870.16" y="305" width="4" height="1" fill="#f23645"/>
<rect x="877.27" y="272.12" width="1" height="46.62" fill="#089981"/>
<rect x="875.77" y="296.5" width="4" height="10" fill="#089981"/>
<rect x="882.87" y="281.88" width="1" height="20.38" fill="#089981"/>
<rect x="881.37" y="282.12" width="4" height="14.75" fill="#089981"/>
<rect x="888.48" y="269.75" width="1" height="16.88" fill="#089981"/>
<rect x="886.98" y="281.88" width="4" height="1" fill="#089981"/>
<rect x="894.08" y="272.5" width="1" height="15" fill="#f23645"/>
<rect x="892.58" y="282.25" width="4" height="1.88" fill="#f23645"/>
</g>
<line x1="10.3" y1="284.1" x2="953" y2="284.1" stroke="#f23645" stroke-width="1" stroke-dasharray="1.13 1.135" stroke-dashoffset="1.96" opacity="0.7"/>
<rect x="9.8" y="25.4" width="1004.35" height="584.6" fill="none" stroke="#e0e3eb" stroke-width="1.6" stroke-opacity="0.65"/>
<text x="960.7" y="72.45" font-size="11.5" fill="#1e222d" stroke="#1e222d" stroke-width="0.2" textLength="45.8" lengthAdjust="spacingAndGlyphs">26.00000</text>
<text x="960.7" y="139.75" font-size="11.5" fill="#1e222d" stroke="#1e222d" stroke-width="0.2" textLength="45.8" lengthAdjust="spacingAndGlyphs">25.50000</text>
<text x="960.7" y="206.95" font-size="11.5" fill="#1e222d" stroke="#1e222d" stroke-width="0.2" textLength="45.8" lengthAdjust="spacingAndGlyphs">25.00000</text>
<text x="960.7" y="273.95" font-size="11.5" fill="#1e222d" stroke="#1e222d" stroke-width="0.2" textLength="45.8" lengthAdjust="spacingAndGlyphs">24.50000</text>
<text x="960.7" y="341.35" font-size="11.5" fill="#1e222d" stroke="#1e222d" stroke-width="0.2" textLength="45.8" lengthAdjust="spacingAndGlyphs">24.00000</text>
<text x="960.7" y="409.35" font-size="11.5" fill="#1e222d" stroke="#1e222d" stroke-width="0.2" textLength="45.8" lengthAdjust="spacingAndGlyphs">23.50000</text>
<text x="960.7" y="476.55" font-size="11.5" fill="#1e222d" stroke="#1e222d" stroke-width="0.2" textLength="45.8" lengthAdjust="spacingAndGlyphs">23.00000</text>
<text x="960.7" y="543.75" font-size="11.5" fill="#1e222d" stroke="#1e222d" stroke-width="0.2" textLength="45.8" lengthAdjust="spacingAndGlyphs">22.50000</text>
<path d="M953.1,276.4 H1010 Q1012,276.4 1012,278.4 V303.3 Q1012,305.3 1010,305.3 H953.1 Z" fill="#f23645"/>
<text x="960.8" y="288.3" font-size="11.5" fill="#ffffff" stroke="#ffffff" stroke-width="0.3" textLength="45.8" lengthAdjust="spacingAndGlyphs">24.40100</text>
<text x="960.8" y="301.3" font-size="11.5" fill="#fcd3d7" stroke="#fcd3d7" stroke-width="0.2" textLength="27.1" lengthAdjust="spacingAndGlyphs">30:43</text>
<path d="M953,557 H998.6 Q1000.6,557 1000.6,559 V570.8 Q1000.6,572.8 998.6,572.8 H953 Z" fill="#ef5350"/>
<text x="960.8" y="569" font-size="11.5" fill="#ffffff" stroke="#ffffff" stroke-width="0.3" textLength="34.6" lengthAdjust="spacingAndGlyphs">5.578K</text>
<text x="81.68" y="601.2" font-size="11.2" fill="#1e222d" stroke="#1e222d" stroke-width="0.2" textLength="11.7" lengthAdjust="spacingAndGlyphs">20</text>
<text x="157.95" y="601.2" font-size="11.2" fill="#1e222d" stroke="#1e222d" stroke-width="0.2" textLength="27.3" lengthAdjust="spacingAndGlyphs">14:00</text>
<text x="249.82" y="601.2" font-size="11.2" fill="#1e222d" stroke="#1e222d" stroke-width="0.2" textLength="11.7" lengthAdjust="spacingAndGlyphs">27</text>
<text x="380.83" y="601.2" font-size="11.2" fill="#1e222d" stroke="#1e222d" stroke-width="0.2" textLength="18.7" lengthAdjust="spacingAndGlyphs" font-weight="bold">Dec</text>
<text x="488.26" y="601.2" font-size="11.2" fill="#1e222d" stroke="#1e222d" stroke-width="0.2" textLength="5.6" lengthAdjust="spacingAndGlyphs">6</text>
<text x="586.44" y="601.2" font-size="11.2" fill="#1e222d" stroke="#1e222d" stroke-width="0.2" textLength="11" lengthAdjust="spacingAndGlyphs">11</text>
<text x="662.36" y="601.2" font-size="11.2" fill="#1e222d" stroke="#1e222d" stroke-width="0.2" textLength="27.3" lengthAdjust="spacingAndGlyphs">14:00</text>
<text x="754.22" y="601.2" font-size="11.2" fill="#1e222d" stroke="#1e222d" stroke-width="0.2" textLength="11.7" lengthAdjust="spacingAndGlyphs">18</text>
<text x="830.49" y="601.2" font-size="11.2" fill="#1e222d" stroke="#1e222d" stroke-width="0.2" textLength="27.3" lengthAdjust="spacingAndGlyphs">14:00</text>
<text x="922.36" y="601.2" font-size="11.2" fill="#1e222d" stroke="#1e222d" stroke-width="0.2" textLength="11.7" lengthAdjust="spacingAndGlyphs">25</text>
<text x="17.2" y="44.1" font-size="11.2" fill="#1e222d" stroke="#1e222d" stroke-width="0.2" textLength="28.3" lengthAdjust="spacingAndGlyphs">Silver</text>
<text x="49.1" y="44.1" font-size="11.2" fill="#1e222d" stroke="#1e222d" stroke-width="0.2" textLength="4" lengthAdjust="spacingAndGlyphs">/</text>
<text x="57.9" y="44.1" font-size="11.2" fill="#1e222d" stroke="#1e222d" stroke-width="0.2" textLength="19.8" lengthAdjust="spacingAndGlyphs">U.S.</text>
<text x="82.2" y="44.1" font-size="11.2" fill="#1e222d" stroke="#1e222d" stroke-width="0.2" textLength="31.1" lengthAdjust="spacingAndGlyphs">Dollar,</text>
<text x="117.2" y="44.1" font-size="11.2" fill="#1e222d" stroke="#1e222d" stroke-width="0.2" textLength="15.6" lengthAdjust="spacingAndGlyphs">4h,</text>
<text x="137.3" y="44.1" font-size="11.2" fill="#1e222d" stroke="#1e222d" stroke-width="0.2" textLength="34.2" lengthAdjust="spacingAndGlyphs">OANDA</text>
<text x="178.6" y="44.1" font-size="11.2" fill="#1e222d" stroke="#1e222d" stroke-width="0.2" textLength="7.5" lengthAdjust="spacingAndGlyphs">O</text>
<text x="186.3" y="44.1" font-size="11.2" fill="#f23645" stroke="#f23645" stroke-width="0.2" textLength="44.8" lengthAdjust="spacingAndGlyphs">24.41500</text>
<text x="238.8" y="44.1" font-size="11.2" fill="#1e222d" stroke="#1e222d" stroke-width="0.2" textLength="6.5" lengthAdjust="spacingAndGlyphs">H</text>
<text x="245.7" y="44.1" font-size="11.2" fill="#f23645" stroke="#f23645" stroke-width="0.2" textLength="44.2" lengthAdjust="spacingAndGlyphs">24.48500</text>
<text x="298.1" y="44.1" font-size="11.2" fill="#1e222d" stroke="#1e222d" stroke-width="0.2" textLength="4.7" lengthAdjust="spacingAndGlyphs">L</text>
<text x="303.3" y="44.1" font-size="11.2" fill="#f23645" stroke="#f23645" stroke-width="0.2" textLength="44.7" lengthAdjust="spacingAndGlyphs">24.37150</text>
<text x="355.5" y="44.1" font-size="11.2" fill="#1e222d" stroke="#1e222d" stroke-width="0.2" textLength="6" lengthAdjust="spacingAndGlyphs">C</text>
<text x="362" y="44.1" font-size="11.2" fill="#f23645" stroke="#f23645" stroke-width="0.2" textLength="45.1" lengthAdjust="spacingAndGlyphs">24.40100</text>
<text x="414.2" y="44.1" font-size="11.2" fill="#f23645" stroke="#f23645" stroke-width="0.2" textLength="44.4" lengthAdjust="spacingAndGlyphs">−0.01400</text>
<text x="462.9" y="44.1" font-size="11.2" fill="#f23645" stroke="#f23645" stroke-width="0.2" textLength="41.9" lengthAdjust="spacingAndGlyphs">(−0.06%)</text>
<text x="17.4" y="59.4" font-size="11.2" fill="#1e222d" stroke="#1e222d" stroke-width="0.2" textLength="14.6" lengthAdjust="spacingAndGlyphs">Vol</text>
<text x="39.4" y="59.4" font-size="11.2" fill="#ef5350" stroke="#ef5350" stroke-width="0.2" textLength="33.9" lengthAdjust="spacingAndGlyphs">5.578K</text>
<g transform="translate(894.4,571.7)"><circle r="8.95" fill="#fff" stroke="#9c27b0" stroke-width="1.5"/><path d="M1.4,-4.8 L-3.9,0.5 L-0.8,0.3 L-3.1,5.1 L3.9,-1 L0.7,-0.8 Z" fill="#9c27b0"/></g>
<g transform="translate(905,571.7)"><circle r="9.25" fill="#fff" stroke="#f23645" stroke-width="1.5"/><clipPath id="fc"><circle r="7.75"/></clipPath><g clip-path="url(#fc)"><rect x="-8" y="-8" width="16" height="16" fill="#fff"/><rect x="-8" y="-8" width="16" height="3.6" fill="#ef5350"/><rect x="-8" y="-1.6" width="16" height="3.0" fill="#ef5350"/><rect x="-8" y="4.2" width="16" height="2.9" fill="#ef5350"/><rect x="-8" y="-8" width="9.7" height="9.9" fill="#1e88e5"/><g fill="#fff" opacity="0.8"><rect x="-6.2" y="-5.5" width="6.4" height="0.6"/><rect x="-6.2" y="-3.1" width="6.4" height="0.6"/><rect x="-6.2" y="-0.7" width="6.4" height="0.6"/><rect x="-4.6" y="-7" width="0.5" height="8"/><rect x="-2.2" y="-7" width="0.5" height="8"/></g></g></g>
<g fill="#131722"><path d="M9.9,622 H16.7 V630.6 H13.3 V625.7 H9.9 Z"/><circle cx="19.6" cy="623.8" r="1.8"/><path d="M23.2,622 H27.7 L24.5,630.6 H20.1 Z"/></g>
<text x="31.5" y="630.3" font-size="11.8" fill="#2a2e39" stroke="#2a2e39" stroke-width="0.15" textLength="65.1" lengthAdjust="spacingAndGlyphs">TradingView</text>
</svg>
</body></html>
